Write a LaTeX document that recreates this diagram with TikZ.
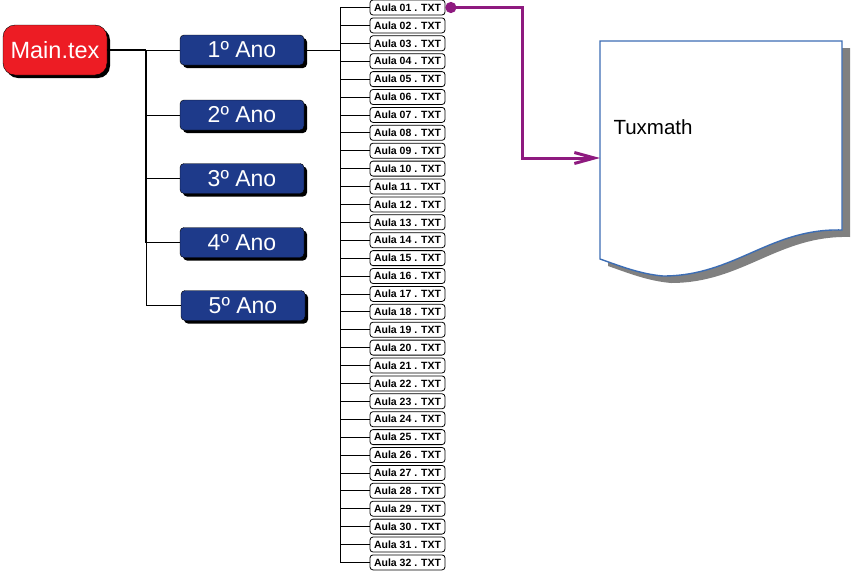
\documentclass[tikz,border=0pt]{standalone}
\usepackage{fontspec}
\setmainfont{Liberation Sans}
\usetikzlibrary{arrows.meta,shadows}
\definecolor{mainred}{HTML}{ED1C24}
\definecolor{anoblue}{HTML}{1E3A8A}
\definecolor{linkpurple}{HTML}{8E1A7F}
\definecolor{docblue}{HTML}{3C6DB4}
\definecolor{docshadow}{HTML}{808080}
\begin{document}
\begin{tikzpicture}[x=1pt,y=-1pt,
  mainbox/.style={draw=black,fill=mainred,text=white,rounded corners=12pt,
    minimum width=104pt,minimum height=50pt,inner sep=0pt,
    font=\fontsize{23.5}{23.5}\selectfont,
    drop shadow={shadow xshift=3pt,shadow yshift=-3pt,fill=black,opacity=1}},
  anobox/.style={draw=black,fill=anoblue,text=white,rounded corners=4pt,
    minimum width=124pt,minimum height=30pt,inner sep=0pt,
    font=\fontsize{23}{23}\selectfont,
    drop shadow={shadow xshift=3pt,shadow yshift=-3pt,fill=black,opacity=1}},
  aulabox/.style={draw=black,fill=white,rounded corners=3pt,line width=0.8pt,
    minimum width=75pt,minimum height=15pt,inner sep=0pt,
    font=\fontsize{10.5}{10.5}\selectfont\bfseries},
  link/.style={draw=linkpurple,line width=3pt}]
\useasboundingbox (0,0) rectangle (852,571);
% main file and years
\node[mainbox] (main) at (55,50) {Main.tex};
\node[anobox] (ano1) at (242,50) {1º Ano};
\node[anobox] (ano2) at (242,115) {2º Ano};
\node[anobox] (ano3) at (242,178.5) {3º Ano};
\node[anobox] (ano4) at (242,242.5) {4º Ano};
\node[anobox] (ano5) at (243,305.5) {5º Ano};
\coordinate (mtrunk) at (146,0);
\draw[line width=2pt] (main.east) -- (main.east -| mtrunk);
\draw[line width=2pt] (main.east -| mtrunk) -- (ano4.west -| mtrunk);
\draw[line width=1pt] (ano4.west -| mtrunk) -- (ano5.west -| mtrunk);
\foreach \k in {1,...,5}
  \draw[line width=1pt] (ano\k.west -| mtrunk) -- (ano\k.west);
% lessons
\coordinate (atrunk) at (340,0);
\foreach \i in {1,...,32}{
  \pgfmathsetmacro\yy{7.5+(\i-1)*17.9}
  \node[aulabox] (a\i) at (407.5,\yy) {Aula \ifnum\i<10 0\fi\i\ . TXT};
  \draw[line width=0.8pt] (a\i.west -| atrunk) -- (a\i.west);
}
\draw[line width=0.8pt] (a1.west -| atrunk) -- (a32.west -| atrunk);
\draw[line width=0.8pt] (ano1.east) -- (ano1.east -| atrunk);
% document
\fill[docshadow,shift={(8,7)}] (600,41) -- (842,41) -- (842,230)
  .. controls (770,228) and (735,276) .. (663,276)
  .. controls (640,274) and (620,266) .. (600,259) -- cycle;
\filldraw[fill=white,draw=docblue,line width=1.4pt] (600,41) -- (842,41) -- (842,230)
  .. controls (770,228) and (735,276) .. (663,276)
  .. controls (640,274) and (620,266) .. (600,259) -- cycle;
\node[anchor=west,font=\fontsize{20.5}{20.5}\selectfont] (tux) at (610,127) {Tuxmath};
\coordinate (docin) at (600,158);
\coordinate (bend) at (522,0);
\draw[link,{Circle[length=11pt]}-{Straight Barb[length=20pt,width=11pt]}]
  (a1.east) -- (a1.east -| bend) -- (bend |- docin) -- (docin);
\end{tikzpicture}
\end{document}
